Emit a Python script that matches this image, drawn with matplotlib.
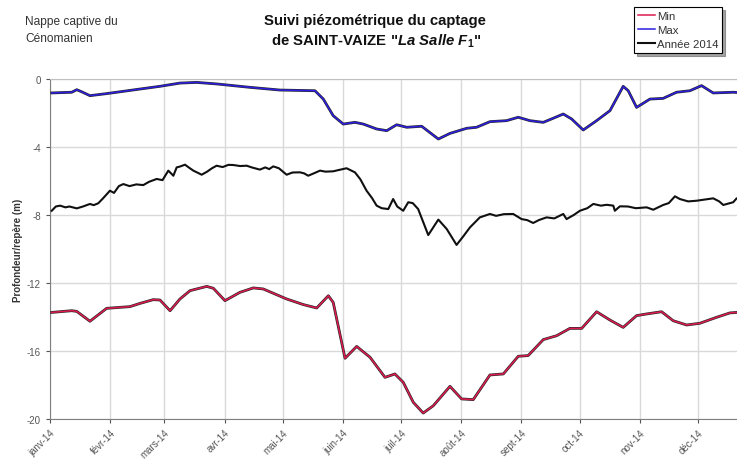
import numpy as np
import matplotlib
matplotlib.use("Agg")
import matplotlib.pyplot as plt
import matplotlib.dates as mdates
from matplotlib.ticker import FixedLocator, FixedFormatter
from datetime import datetime

plt.rcParams['font.family'] = ['Liberation Sans', 'DejaVu Sans']
plt.rcParams['mathtext.fontset'] = 'custom'
plt.rcParams['mathtext.it'] = 'Liberation Sans:bold:italic'
plt.rcParams['mathtext.rm'] = 'Liberation Sans:bold'

# ---- data (day of year 2014, depth in m) ----
max_days = [0.9, 11.2, 13.8, 16.3, 20.6, 29.2, 46.4, 56.7, 67, 75.6, 85.9, 103, 118.6, 136.6,
            140.9, 146, 151.2, 157.2, 161.5, 168.4, 173.6, 178.7, 183.9, 191.6, 200.2, 206.2,
            214.8, 219.9, 226.8, 235.4, 241.4, 247.4, 254.3, 259.4, 264.6, 268.9, 274.9, 281.8,
            288.7, 295.5, 298.1, 302.4, 309.3, 316.1, 323, 329.9, 335.9, 341.9, 352.2, 364]
max_vals = [-0.82, -0.78, -0.63, -0.75, -0.98, -0.86, -0.59, -0.43, -0.24, -0.2, -0.29, -0.49,
            -0.65, -0.69, -1.18, -2.16, -2.65, -2.55, -2.65, -2.94, -3.04, -2.69, -2.84, -2.78,
            -3.53, -3.2, -2.9, -2.84, -2.51, -2.45, -2.25, -2.45, -2.55, -2.31, -2.06, -2.35,
            -3.0, -2.45, -1.86, -0.43, -0.69, -1.67, -1.18, -1.14, -0.78, -0.69, -0.39, -0.82,
            -0.78, -0.85]

min_days = [0.9, 11.2, 13.8, 20.6, 29.2, 41.2, 46.4, 53.2, 56.7, 61.9, 67, 72.2, 80.8, 84.2,
            90.2, 97.9, 104.8, 109.9, 122, 130.6, 137.5, 143.5, 146, 152.1, 158.1, 165, 172.7,
            175.3, 177.8, 182.1, 187.3, 192.4, 197.6, 206.2, 212.2, 218.2, 226.8, 233.7, 241.4,
            246.5, 254.3, 261.2, 268, 274.1, 281.8, 288.7, 295.5, 302.4, 307.6, 315.3, 321.3,
            328.2, 335, 343.6, 350.5, 354, 364]
min_vals = [-13.73, -13.63, -13.67, -14.25, -13.49, -13.39, -13.2, -12.98, -13.0, -13.63, -12.94,
            -12.45, -12.2, -12.31, -13.04, -12.55, -12.29, -12.35, -12.94, -13.27, -13.47, -12.75,
            -13.14, -16.43, -15.73, -16.37, -17.55, -17.45, -17.35, -17.84, -19.02, -19.65, -19.22,
            -18.08, -18.82, -18.86, -17.41, -17.35, -16.31, -16.27, -15.33, -15.1, -14.67, -14.67,
            -13.69, -14.18, -14.61, -13.92, -13.82, -13.69, -14.22, -14.47, -14.37, -14.02, -13.76,
            -13.73, -13.7]

y2014_days = [0.9, 3, 5.2, 8, 10, 13.8, 17, 20.6, 22.5, 24.9, 27.5, 30.9, 33, 35.5, 37.8, 41,
              44.5, 48.1, 51, 55, 58, 61, 63.6, 65.3, 67, 69.6, 71.5, 73.9, 78.2, 81, 83.5, 85.9,
              89, 92, 94.5, 98, 101.4, 104, 108.2, 111, 113, 115.1, 118, 122, 125, 128.9, 131,
              133.1, 136, 139.2, 142, 146, 149, 152.9, 157.2, 160, 163.2, 166, 168.4, 171, 174.4,
              176.9, 179, 182.1, 184.7, 187, 189.8, 195, 200.2, 204.5, 209.6, 213.1, 216.5,
              221.6, 226.8, 230, 234, 238.8, 243.1, 246, 249.1, 252, 256, 260, 264.6, 266.3,
              270, 273.2, 277, 280.1, 284, 287, 290.4, 291.2, 293.8, 298, 302, 307.6, 311,
              316.1, 319, 322.2, 324.7, 329, 333.4, 337, 341.9, 345, 347.1, 352.2, 354, 358, 364]
y2014_vals = [-7.75, -7.5, -7.45, -7.55, -7.5, -7.61, -7.5, -7.35, -7.42, -7.31, -7.0, -6.57,
              -6.7, -6.3, -6.18, -6.3, -6.2, -6.24, -6.05, -5.88, -5.95, -5.39, -5.69, -5.2,
              -5.15, -5.04, -5.2, -5.39, -5.63, -5.45, -5.25, -5.1, -5.18, -5.05, -5.06, -5.12,
              -5.1, -5.2, -5.33, -5.2, -5.3, -5.14, -5.25, -5.63, -5.5, -5.49, -5.55, -5.69,
              -5.55, -5.39, -5.45, -5.43, -5.35, -5.25, -5.49, -5.9, -6.57, -7.0, -7.45, -7.6,
              -7.65, -7.06, -7.5, -7.75, -7.25, -7.3, -7.65, -9.18, -8.27, -8.82, -9.76, -9.25,
              -8.73, -8.14, -7.94, -8.05, -7.95, -7.94, -8.24, -8.3, -8.47, -8.3, -8.14, -8.2,
              -7.94, -8.24, -8.0, -7.75, -7.6, -7.35, -7.45, -7.4, -7.45, -7.75, -7.49, -7.5,
              -7.6, -7.55, -7.69, -7.41, -7.3, -6.9, -7.06, -7.2, -7.16, -7.1, -7.02, -7.2,
              -7.41, -7.25, -7.02, -7.1, -7.0]

month_labels = ['janv-14', 'févr-14', 'mars-14', 'avr-14', 'mai-14', 'juin-14', 'juil-14',
                'août-14', 'sept-14', 'oct-14', 'nov-14', 'déc-14']
y_ticks = [0, -4, -8, -12, -16, -20]

base = mdates.date2num(datetime(2014, 1, 1))
def to_x(days):
    return base + np.asarray(days, dtype=float)

fig = plt.figure(figsize=(7.37, 4.64), dpi=100)
ax = fig.add_axes([50 / 737, 44 / 464, 708 / 737, 340 / 464])

series = [(min_days, min_vals, '#dc1a4e', 'Min', True),
          (max_days, max_vals, '#2c1ee0', 'Max', True),
          (y2014_days, y2014_vals, '#101010', 'Année 2014', False)]
handles = []
for d, v, c, lab, outline in series:
    if outline:
        ax.plot(to_x(d), v, color='#2a2a2a', lw=2.0, solid_joinstyle='round', zorder=3)
        h, = ax.plot(to_x(d), v, color=c, lw=1.1, solid_joinstyle='round', zorder=4, label=lab)
    else:
        h, = ax.plot(to_x(d), v, color=c, lw=1.5, solid_joinstyle='round', zorder=4, label=lab)
    handles.append(h)

month_starts = [base + (datetime(2014, m, 1) - datetime(2014, 1, 1)).days for m in range(1, 13)]
ax.set_xlim(base, base + 365)
ax.set_ylim(-20, 0)
ax.xaxis.set_major_locator(FixedLocator(month_starts))
ax.xaxis.set_major_formatter(FixedFormatter(month_labels))
ax.set_yticks(y_ticks)
ax.set_yticklabels([str(t) for t in y_ticks])
ax.grid(True, color='#d9d9d9', lw=1.0)
ax.set_axisbelow(True)
for t in ax.get_xticklabels():
    t.set_rotation(45)
    t.set_ha('right')
    t.set_va('top')
    t.set_rotation_mode('anchor')
ax.tick_params(axis='both', labelsize=7, colors='#555555', length=3, direction='out')
ax.tick_params(axis='x', pad=3)
ax.spines['right'].set_visible(False)
ax.spines['top'].set_color('#bfbfbf')
ax.spines['left'].set_color('#808080')
ax.spines['bottom'].set_color('#808080')
ax.set_ylabel('Profondeur/repère (m)', fontsize=7, fontweight='bold', color='#333333')
ax.yaxis.set_label_coords((23 - 50) / 708, 0.5)

fig.text(25 / 737, 1 - 22 / 464, 'Nappe captive du', fontsize=8.6, color='#333333',
         ha='left', va='center')
fig.text(25 / 737, 1 - 39 / 464, 'Cénomanien', fontsize=8.6, color='#333333',
         ha='left', va='center')
fig.text(375 / 737, 1 - 21 / 464, 'Suivi piézométrique du captage', fontsize=10.7,
         fontweight='bold', ha='center', va='center', color='#111111')
fig.text(376 / 737, 1 - 41 / 464, r'de SAINT-VAIZE "$\it{La\ Salle\ F_1}$"', fontsize=10.7,
         fontweight='bold', ha='center', va='center', color='#111111')

leg = fig.legend(handles=handles, loc='upper left', bbox_to_anchor=(634 / 737, 1 - 8 / 464),
                 fontsize=8.2, frameon=True, fancybox=False, edgecolor='black',
                 handlelength=1.5, handletextpad=0.15, borderpad=0.35, labelspacing=0.35,
                 borderaxespad=0, shadow=True)
leg.get_frame().set_linewidth(0.8)
for t in leg.get_texts():
    t.set_color('#333333')

fig.savefig('out.png', dpi=100)
